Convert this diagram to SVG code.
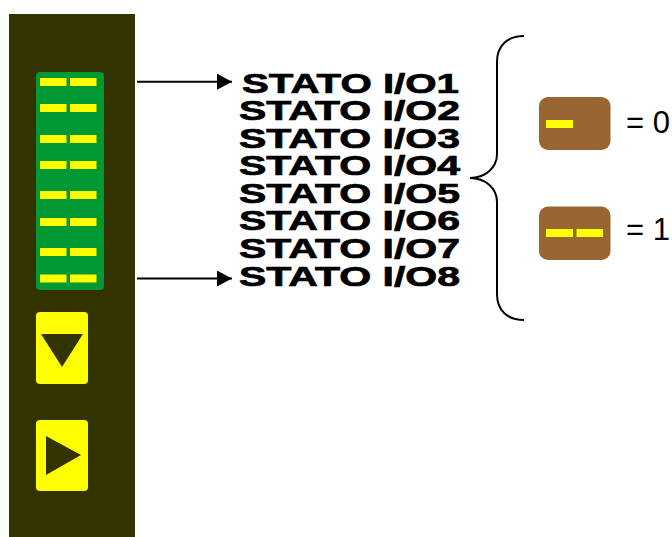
<svg xmlns="http://www.w3.org/2000/svg" width="672" height="537" viewBox="0 0 672 537">
<style>
.bar{fill:#ffff00}
.lbl{font-family:"Liberation Sans",Arial,sans-serif;font-weight:700;font-size:28px;fill:#000;stroke:#000;stroke-width:.7px}
.val{font-family:"Liberation Sans",Arial,sans-serif;font-size:31px;fill:#000}
.btn{fill:#ffff00}
.tri{fill:#333300}
.brown{fill:#996633}
.conn{fill:none;stroke:#000;stroke-width:2px}
</style>
<defs>
<marker id="arrow" markerUnits="userSpaceOnUse" markerWidth="16" markerHeight="16" refX="15" refY="8" orient="auto">
<path d="M0 0L15 8L0 16Z" fill="#000"/>
</marker>
</defs>
<rect id="panel" x="9" y="14" width="126" height="523" fill="#333300"/>
<g id="led-display">
<rect x="36" y="72" width="68" height="218" rx="4" fill="#009933"/>
<rect class="bar" x="40" y="78" width="26.500" height="8"/><rect class="bar" x="70" y="78" width="26.500" height="8"/>
<rect class="bar" x="40" y="104" width="26.500" height="8"/><rect class="bar" x="70" y="104" width="26.500" height="8"/>
<rect class="bar" x="40" y="135" width="26.500" height="8"/><rect class="bar" x="70" y="135" width="26.500" height="8"/>
<rect class="bar" x="40" y="161" width="26.500" height="8"/><rect class="bar" x="70" y="161" width="26.500" height="8"/>
<rect class="bar" x="40" y="191" width="26.500" height="8"/><rect class="bar" x="70" y="191" width="26.500" height="8"/>
<rect class="bar" x="40" y="218" width="26.500" height="8"/><rect class="bar" x="70" y="218" width="26.500" height="8"/>
<rect class="bar" x="40" y="248" width="26.500" height="8"/><rect class="bar" x="70" y="248" width="26.500" height="8"/>
<rect class="bar" x="40" y="274.500" width="26.500" height="8"/><rect class="bar" x="70" y="274.500" width="26.500" height="8"/>
</g>
<g id="btn-down">
<rect class="btn" x="36" y="312" width="52" height="72" rx="4"/>
<path class="tri" d="M41 334H83L62 367Z"/>
</g>
<g id="btn-right">
<rect class="btn" x="36" y="420" width="52" height="71" rx="4"/>
<path class="tri" d="M46 436L81 455L46 475Z"/>
</g>
<g id="labels">
<text class="lbl" x="242" y="92.500" textLength="217" lengthAdjust="spacingAndGlyphs">STATO I/O1</text>
<text class="lbl" x="239" y="120" textLength="221" lengthAdjust="spacingAndGlyphs">STATO I/O2</text>
<text class="lbl" x="239" y="147.500" textLength="221" lengthAdjust="spacingAndGlyphs">STATO I/O3</text>
<text class="lbl" x="239" y="175" textLength="221" lengthAdjust="spacingAndGlyphs">STATO I/O4</text>
<text class="lbl" x="239" y="202.500" textLength="221" lengthAdjust="spacingAndGlyphs">STATO I/O5</text>
<text class="lbl" x="239" y="230" textLength="221" lengthAdjust="spacingAndGlyphs">STATO I/O6</text>
<text class="lbl" x="239" y="257.500" textLength="221" lengthAdjust="spacingAndGlyphs">STATO I/O7</text>
<text class="lbl" x="239" y="285.500" textLength="221" lengthAdjust="spacingAndGlyphs">STATO I/O8</text>
</g>
<g id="connectors">
<path class="conn" marker-end="url(#arrow)" d="M137 81.700H232"/>
<path class="conn" marker-end="url(#arrow)" d="M137 278.500H232"/>
<path class="conn" d="M524 36C507 36 497 46 497 62V154C497 168 485 178 470 178C485 178 497 188 497 202V294C497 310 507 320 524 320"/>
</g>
<g id="legend-0">
<rect class="brown" x="539" y="97" width="71.500" height="53" rx="9"/>
<rect class="bar" x="546" y="120" width="27" height="8"/>
<text class="val" x="626" y="133">= 0</text>
</g>
<g id="legend-1">
<rect class="brown" x="539" y="206.500" width="71.500" height="53.500" rx="9"/>
<rect class="bar" x="546" y="229" width="27" height="8"/><rect class="bar" x="576.500" y="229" width="26.500" height="8"/>
<text class="val" x="626" y="240">= 1</text>
</g>
</svg>
